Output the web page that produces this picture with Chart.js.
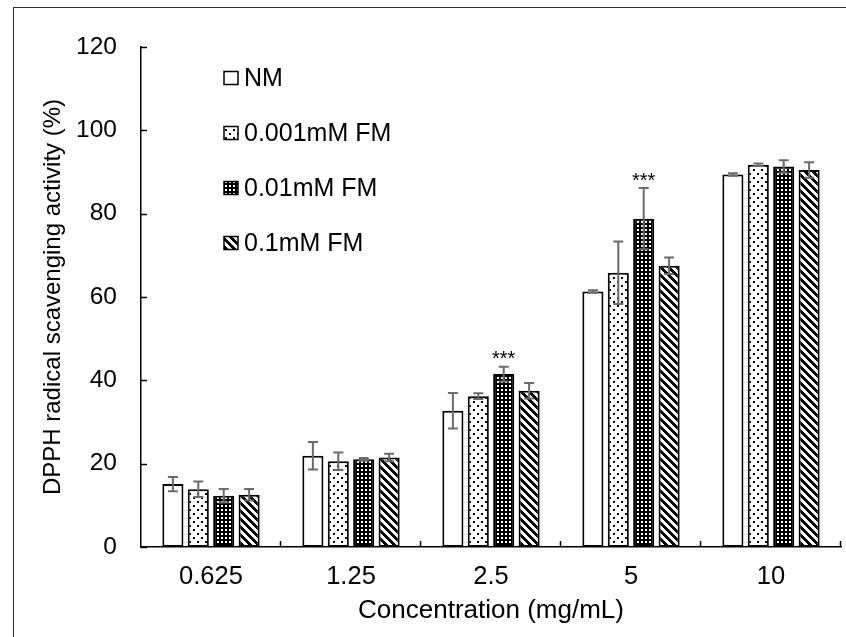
<!DOCTYPE html>
<html>
<head>
<meta charset="utf-8">
<script src="https://cdn.jsdelivr.net/npm/chart.js@4.4.1/dist/chart.umd.min.js"></script>
<style>
  html, body { margin: 0; padding: 0; background: #fff; }
  #wrap { position: relative; width: 846px; height: 637px; overflow: hidden; }
  #frame { position: absolute; left: 13px; top: 7px; width: 900px; height: 700px;
           border-left: 1.5px solid #333; border-top: 1.5px solid #333; box-sizing: border-box; }
  #c { position: absolute; left: 0; top: 0; }
</style>
</head>
<body>
<div id="wrap"><div id="frame"></div><canvas id="c" width="846" height="637"></canvas></div>
<script>
"use strict";

const $ = (id) => document.getElementById(id);
const FONT = '"Liberation Sans", Arial, sans-serif';

// concentrations (mg/mL) and groups
const CONCS = ["0.625", "1.25", "2.5", "5", "10"];
const SERIES = ["NM", "0.001mM FM", "0.01mM FM", "0.1mM FM"];

// mean scavenging activity (%) and SD
const NM       = [15.1, 21.9, 32.7, 61.3, 89.4];
const NM_SD    = [1.7, 3.3, 4.25, 0.3, 0.3];
const FM001    = [13.85, 20.6, 36.2, 65.8, 91.75];
const FM001_SD = [1.87, 2.1, 0.7, 7.5, 0.3];
const FM01     = [12.3, 21.05, 41.5, 78.8, 91.3];
const FM01_SD  = [1.6, 0.3, 1.75, 7.35, 1.5];
const FM1      = [12.55, 21.5, 37.5, 67.5, 90.5];
const FM1_SD   = [1.36, 0.9, 1.85, 2.0, 1.85];
const SIG01    = ["", "", "***", "***", ""];   // marks over the 0.01mM FM bars

const Y_TICKS = [0, 20, 40, 60, 80, 100, 120];

const ctx = $("c").getContext("2d");

// --- fill patterns (Excel-like hatches) ---
function tile(w, h, paint) {
  const t = document.createElement("canvas");
  t.width = w; t.height = h;
  paint(t.getContext("2d"), w, h);
  return ctx.createPattern(t, "repeat");
}
const P_DOTS = tile(8, 8, (g) => {
  g.fillStyle = "#fff"; g.fillRect(0, 0, 8, 8);
  g.fillStyle = "#000"; g.fillRect(1, 1, 2, 2); g.fillRect(5, 5, 2, 2);
});
const P_GRID = tile(4, 4, (g) => {
  g.fillStyle = "#000"; g.fillRect(0, 0, 4, 4);
  g.fillStyle = "#fff"; g.fillRect(1, 1, 2, 2);
});
const P_DIAG = tile(8, 8, (g, w, h) => {
  const img = g.createImageData(w, h);
  for (let y = 0; y < h; y++) for (let x = 0; x < w; x++) {
    const on = (((x - y) % 8) + 8) % 8 < 4;
    const i = (y * w + x) * 4, c = on ? 0 : 255;
    img.data[i] = img.data[i + 1] = img.data[i + 2] = c; img.data[i + 3] = 255;
  }
  g.putImageData(img, 0, 0);
});
const FILLS = ["#fff", P_DOTS, P_GRID, P_DIAG];
const SDS = [NM_SD, FM001_SD, FM01_SD, FM1_SD];

// error bars + significance stars
const errorBars = {
  id: "errorBars",
  afterDatasetsDraw(chart) {
    const g = chart.ctx, y = chart.scales.y;
    g.save();
    g.strokeStyle = "#6b6b6b"; g.lineWidth = 2;
    chart.data.datasets.forEach((ds, i) => {
      chart.getDatasetMeta(i).data.forEach((bar, j) => {
        const v = ds.data[j], sd = SDS[i][j];
        const yt = y.getPixelForValue(v + sd), yb = y.getPixelForValue(v - sd);
        g.beginPath();
        g.moveTo(bar.x, yt); g.lineTo(bar.x, yb);
        g.moveTo(bar.x - 5, yt); g.lineTo(bar.x + 5, yt);
        g.moveTo(bar.x - 5, yb); g.lineTo(bar.x + 5, yb);
        g.stroke();
        if (i === 2 && SIG01[j]) {
          g.fillStyle = "#000"; g.font = "20px " + FONT;
          g.textAlign = "center"; g.textBaseline = "alphabetic";
          g.fillText(SIG01[j], bar.x, yt - 1.5);
        }
      });
    });
    g.restore();
  },
};

// inward tick marks + legend inside the plot
const decor = {
  id: "decor",
  afterDraw(chart) {
    const g = chart.ctx, a = chart.chartArea, ys = chart.scales.y;
    g.save();
    g.strokeStyle = "#000"; g.lineWidth = 1.5;
    g.beginPath();
    Y_TICKS.forEach((t) => { const p = Math.round(ys.getPixelForValue(t)) + 0.5; g.moveTo(a.left, p); g.lineTo(a.left + 6, p); });
    const cw = (a.right - a.left) / CONCS.length;
    for (let k = 1; k <= CONCS.length; k++) {
      const p = Math.round(a.left + k * cw) - 0.5;
      g.moveTo(p, a.bottom); g.lineTo(p, a.bottom - 6);
    }
    g.stroke();

    SERIES.forEach((s, i) => {
      const cy = a.top + 31 + i * 55, bx = a.left + 83;
      g.fillStyle = FILLS[i]; g.fillRect(bx, cy - 6.5, 14, 13);
      g.strokeStyle = "#000"; g.lineWidth = 1.5; g.strokeRect(bx, cy - 6.5, 14, 13);
      g.fillStyle = "#000"; g.font = "25px " + FONT;
      g.textAlign = "left"; g.textBaseline = "middle";
      g.fillText(s, bx + 20, cy + 1);
    });
    g.restore();
  },
};

Chart.defaults.font.family = FONT;
Chart.defaults.font.size = 25;
Chart.defaults.color = "#000";

new Chart(ctx, {
  type: "bar",
  data: {
    labels: CONCS,
    datasets: [NM, FM001, FM01, FM1].map((d, i) => ({
      label: SERIES[i], data: d, backgroundColor: FILLS[i],
      borderColor: "#000", borderWidth: 2, borderSkipped: false,
      categoryPercentage: 0.726, barPercentage: 0.83,
    })),
  },
  options: {
    responsive: false, animation: false, devicePixelRatio: 1,
    layout: { padding: { left: 0, right: 5, top: 47, bottom: 0 } },
    plugins: { legend: { display: false }, tooltip: { enabled: false } },
    scales: {
      x: {
        grid: { display: false, drawTicks: false },
        border: { display: true, color: "#000", width: 1.5 },
        ticks: { padding: 15, font: { size: 25.5 } },
        title: { display: true, text: "Concentration (mg/mL)", font: { size: 26 },
                 padding: { top: 0, bottom: 10.5 } },
        afterFit: (s) => { s.height = 90; },
      },
      y: {
        min: 0, max: 120,
        grid: { display: false, drawTicks: false },
        border: { display: true, color: "#000", width: 1.5 },
        ticks: { stepSize: 20, padding: 24, font: { size: 24.5 } },
        title: { display: true, text: "DPPH radical scavenging activity (%)", font: { size: 24 },
                 padding: { top: 38.5, bottom: 0 } },
        afterFit: (s) => { s.width = 141; },
      },
    },
  },
  plugins: [errorBars, decor],
});
</script>
</body>
</html>
